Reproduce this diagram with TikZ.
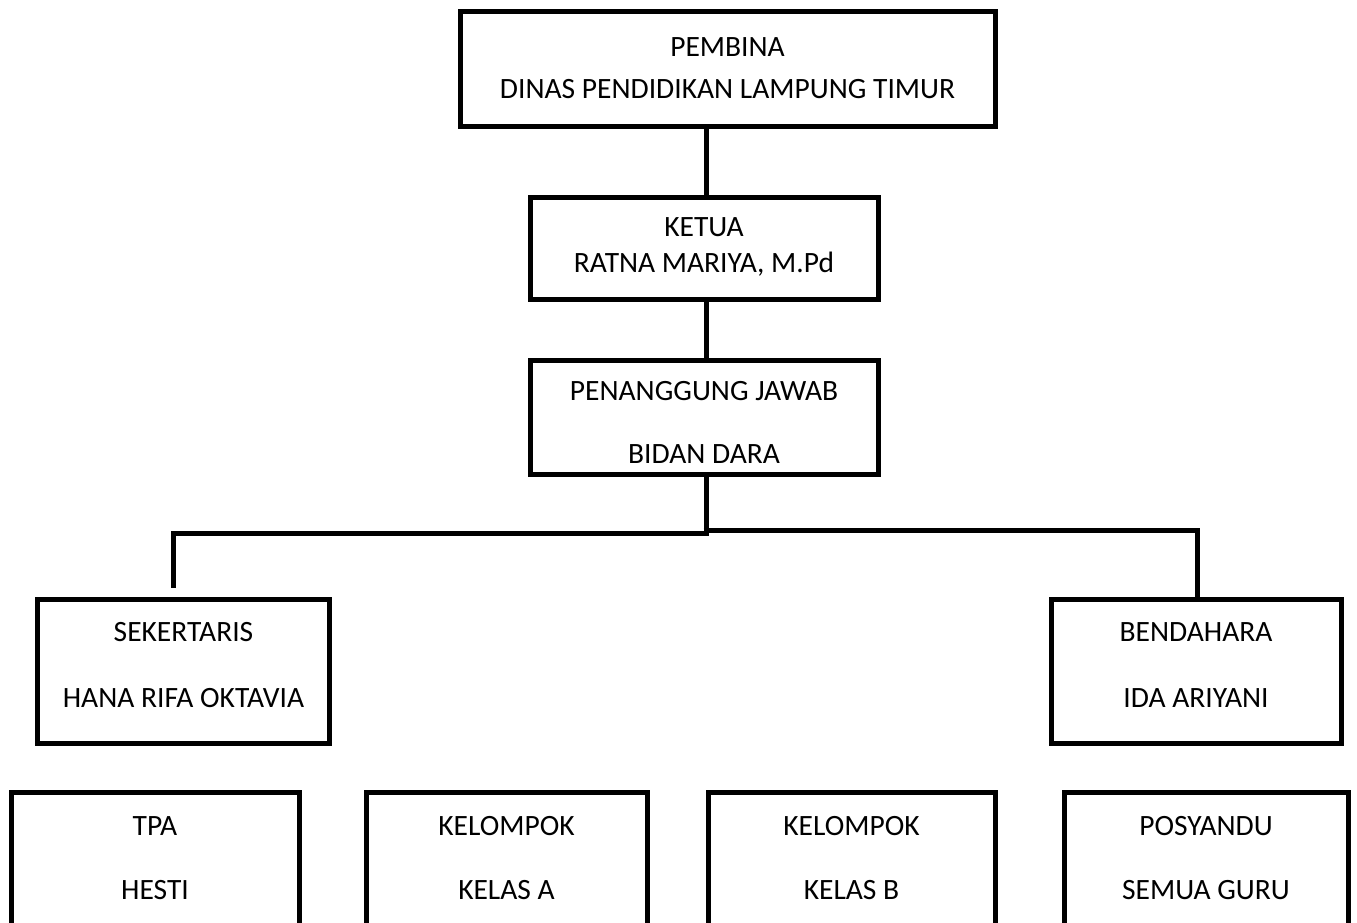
\documentclass[tikz,border=0pt]{standalone}
\usepackage{fontspec}
\setmainfont{Carlito}
\begin{document}
\begin{tikzpicture}[x=1pt,y=-1pt,
  box/.style={draw=black,line width=5pt,inner sep=0pt,outer sep=0pt,fill=white},
  conn/.style={draw=black,line width=5pt},
  txt/.style={anchor=base,inner sep=0pt,font=\fontsize{29.5}{35}\selectfont}]
\clip (0,0) rectangle (1357,922);
\fill[white] (0,0) rectangle (1357,922);
% boxes
\node[box,minimum width=535pt,minimum height=115pt] (pembina) at (727.5,68.5) {};
\node[box,minimum width=348pt,minimum height=102pt] (ketua) at (704,248) {};
\node[box,minimum width=348pt,minimum height=114pt] (pj) at (704,417) {};
\node[box,minimum width=292pt,minimum height=144pt] (sek) at (183.5,671) {};
\node[box,minimum width=290pt,minimum height=144pt] (ben) at (1196,671) {};
\node[box,minimum width=288pt,minimum height=250pt] (tpa) at (155,917) {};
\node[box,minimum width=281pt,minimum height=250pt] (ka) at (506.5,917) {};
\node[box,minimum width=287pt,minimum height=250pt] (kb) at (851.5,917) {};
\node[box,minimum width=284pt,minimum height=250pt] (pos) at (1206,917) {};
% texts
\node[txt] (pembina1) at (727.5,56) {PEMBINA};
\node[txt] (pembina2) at (727.5,98) {DINAS PENDIDIKAN LAMPUNG TIMUR};
\node[txt] (ketua1) at (704,236) {KETUA};
\node[txt] (ketua2) at (704,272) {RATNA MARIYA, M.Pd};
\node[txt] (pj1) at (704,400) {PENANGGUNG JAWAB};
\node[txt] (pj2) at (704,463) {BIDAN DARA};
\node[txt] (sek1) at (183.5,641) {SEKERTARIS};
\node[txt] (sek2) at (183.5,707) {HANA RIFA OKTAVIA};
\node[txt] (ben1) at (1196,641) {BENDAHARA};
\node[txt] (ben2) at (1196,707) {IDA ARIYANI};
\node[txt] (tpa1) at (155,835) {TPA};
\node[txt] (tpa2) at (155,899) {HESTI};
\node[txt] (ka1) at (506.5,835) {KELOMPOK};
\node[txt] (ka2) at (506.5,899) {KELAS A};
\node[txt] (kb1) at (851.5,835) {KELOMPOK};
\node[txt] (kb2) at (851.5,899) {KELAS B};
\node[txt] (pos1) at (1206,835) {POSYANDU};
\node[txt] (pos2) at (1206,899) {SEMUA GURU};
% connectors
\coordinate (c1) at (706,0);
\coordinate (jl) at (706,533);
\coordinate (jr) at (706,530);
\coordinate (sekend) at (173,588);
\coordinate (benend) at (1197,598);
\draw[conn] (pembina.south -| c1) -- (ketua.north -| c1);
\draw[conn] (ketua.south -| c1) -- (pj.north -| c1);
\draw[conn] (pj.south -| c1) -- (jl);
\draw[conn] ([xshift=2.5pt]jl) -| (sekend);
\draw[conn] ([xshift=-2.5pt]jr) -| (benend);
\end{tikzpicture}
\end{document}
